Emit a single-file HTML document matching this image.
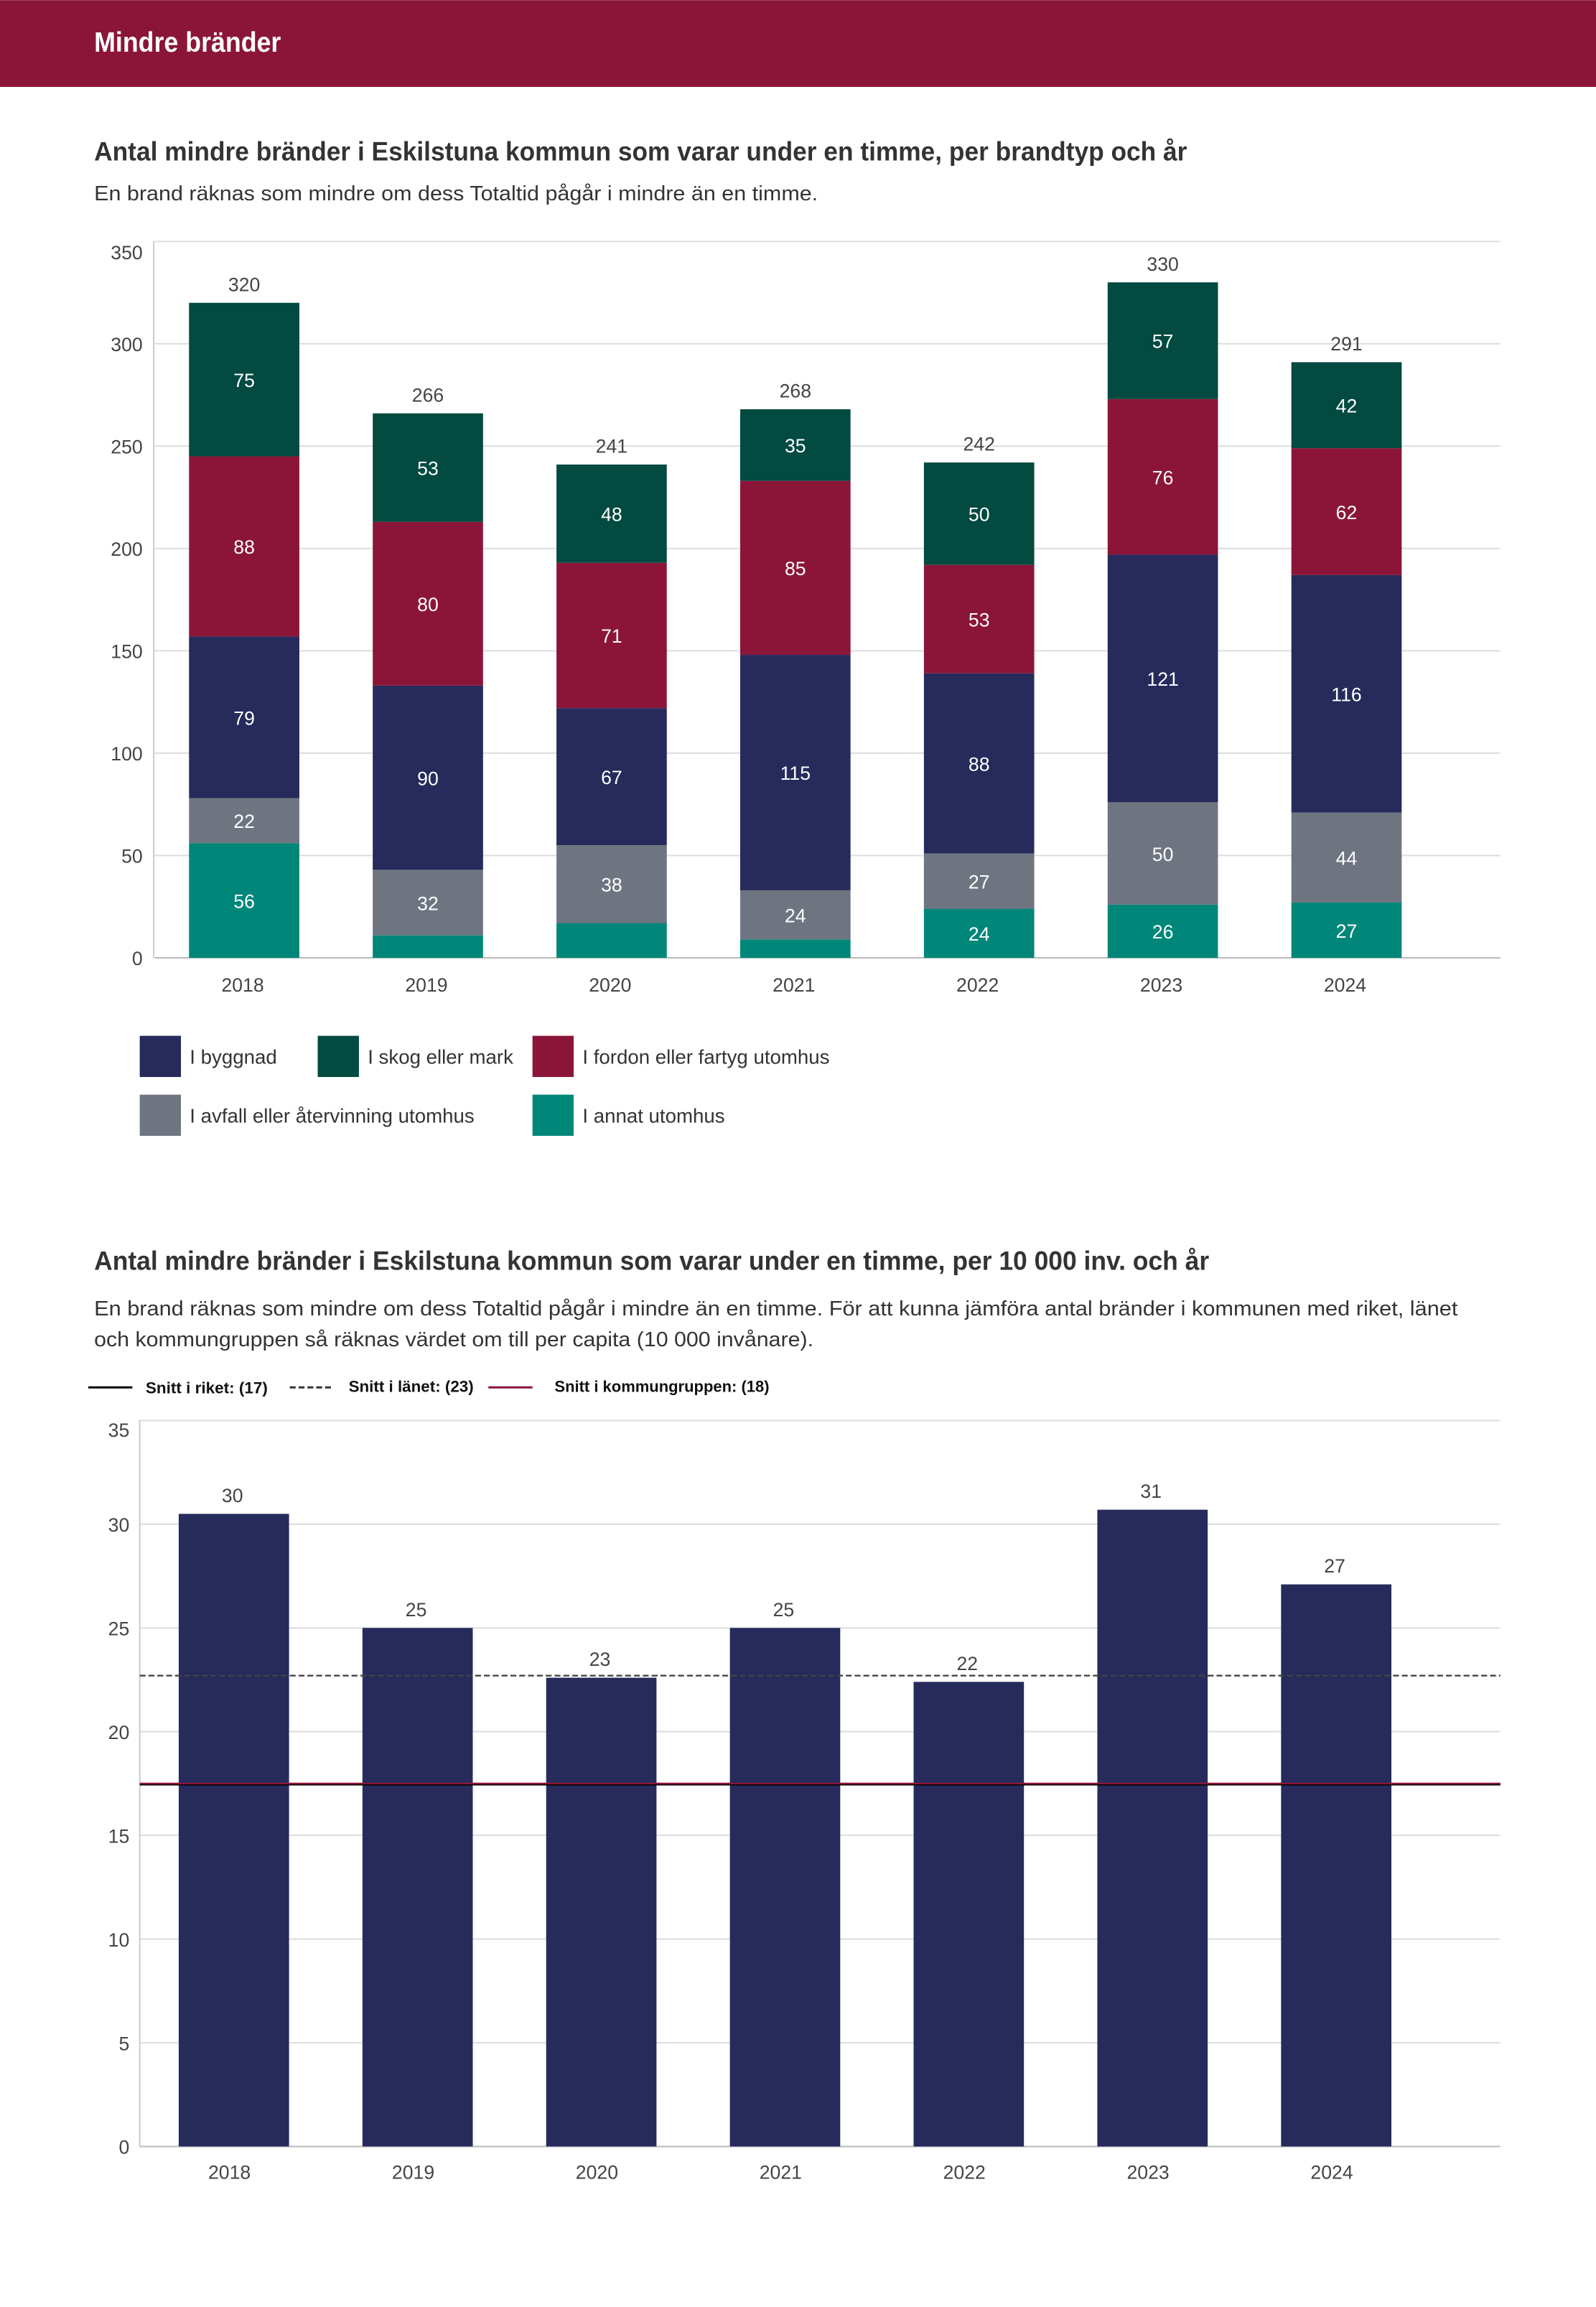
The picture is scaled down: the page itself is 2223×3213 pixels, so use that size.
<!DOCTYPE html>
<html><head><meta charset="utf-8"><style>
html,body{margin:0;padding:0;background:#fff;}
svg{display:block;font-family:"Liberation Sans",sans-serif;}
</style></head><body>
<svg id="s" width="2223" height="3213" viewBox="0 0 1085 1568" xmlns="http://www.w3.org/2000/svg">
<rect x="0" y="0" width="1085" height="59" fill="#8b1538"/>
<text x="64" y="35" fill="#fff" font-size="19" font-weight="bold" textLength="127" lengthAdjust="spacingAndGlyphs">Mindre bränder</text>
<text x="64" y="109" fill="#333" font-size="18" font-weight="bold" textLength="743" lengthAdjust="spacingAndGlyphs">Antal mindre bränder i Eskilstuna kommun som varar under en timme, per brandtyp och år</text>
<text x="64" y="136" fill="#333" font-size="14" textLength="492" lengthAdjust="spacingAndGlyphs">En brand räknas som mindre om dess Totaltid pågår i mindre än en timme.</text>
<g id="c1"></g>
<g>
<rect x="95" y="704" width="28" height="28" fill="#262b5c"/><text x="129" y="723" font-size="13.5" fill="#333">I byggnad</text>
<rect x="216" y="704" width="28" height="28" fill="#034a40"/><text x="250" y="723" font-size="13.5" fill="#333">I skog eller mark</text>
<rect x="362" y="704" width="28" height="28" fill="#8b1538"/><text x="396" y="723" font-size="13.5" fill="#333">I fordon eller fartyg utomhus</text>
<rect x="95" y="744" width="28" height="28" fill="#6f7580"/><text x="129" y="763" font-size="13.5" fill="#333">I avfall eller återvinning utomhus</text>
<rect x="362" y="744" width="28" height="28" fill="#00877a"/><text x="396" y="763" font-size="13.5" fill="#333">I annat utomhus</text>
</g>
<text x="64" y="863" fill="#333" font-size="18" font-weight="bold" textLength="758" lengthAdjust="spacingAndGlyphs">Antal mindre bränder i Eskilstuna kommun som varar under en timme, per 10 000 inv. och år</text>
<text x="64" y="894" fill="#333" font-size="14" textLength="927" lengthAdjust="spacingAndGlyphs">En brand räknas som mindre om dess Totaltid pågår i mindre än en timme. För att kunna jämföra antal bränder i kommunen med riket, länet</text>
<text x="64" y="915" fill="#333" font-size="14" textLength="489" lengthAdjust="spacingAndGlyphs">och kommungruppen så räknas värdet om till per capita (10 000 invånare).</text>
<g>
<line x1="60" y1="943" x2="90" y2="943" stroke="#000" stroke-width="1.5"/>
<text x="99" y="947" font-size="11" font-weight="bold" fill="#111" textLength="83" lengthAdjust="spacingAndGlyphs">Snitt i riket: (17)</text>
<line x1="197" y1="943" x2="227" y2="943" stroke="#333" stroke-width="1.5" stroke-dasharray="4,2"/>
<text x="237" y="946" font-size="11" font-weight="bold" fill="#111" textLength="85" lengthAdjust="spacingAndGlyphs">Snitt i länet: (23)</text>
<line x1="332" y1="943" x2="362" y2="943" stroke="#8b1538" stroke-width="1.5"/>
<text x="377" y="946" font-size="11" font-weight="bold" fill="#111" textLength="146" lengthAdjust="spacingAndGlyphs">Snitt i kommungruppen: (18)</text>
</g>
<g id="c2"></g>
</svg>
<script>
const years = ["2018","2019","2020","2021","2022","2023","2024"];
const annat = [56,11,17,9,24,26,27];
const avfall = [22,32,38,24,27,50,44];
const byggnad = [79,90,67,115,88,121,116];
const fordon = [88,80,71,85,53,76,62];
const skog = [75,53,48,35,50,57,42];
const totals = [320,266,241,268,242,330,291];
const ticks1 = [0,50,100,150,200,250,300,350];
const perCapita = [30.5,25.0,22.6,25.0,22.4,30.7,27.1];
const perCapitaLabels = ["30","25","23","25","22","31","27"];
const ticks2 = [0,5,10,15,20,25,30,35];
const riket = 17.45, lanet = 22.7, kommungrupp = 17.5;

const NS="http://www.w3.org/2000/svg";
function mk(p,tag,attrs,txt){const e=document.createElementNS(NS,tag);for(const k in attrs)e.setAttribute(k,attrs[k]);if(txt!==undefined)e.textContent=txt;p.appendChild(e);return e;}

// chart 1
const c1=document.getElementById('c1');
const y1=v=>651-v*(487/350);
const x1=i=>166+i*124.9;
ticks1.forEach(t=>{
  const g=mk(c1,'line',{x1:105,x2:1020,y1:y1(t),y2:y1(t),stroke:t===0?'#bbb':'#ddd','stroke-width':1});
  
  
  const l=mk(c1,'text',{x:97,y:y1(t)+(t===350?12:5),'text-anchor':'end','font-size':13,fill:'#444'},t);
  
  
});
const ax=mk(c1,'line',{x1:104.5,x2:104.5,y1:164,y2:651,stroke:'#ccc'});


const series=[[annat,'#00877a','annat'],[avfall,'#6f7580','avfall'],[byggnad,'#262b5c','byggnad'],[fordon,'#8b1538','fordon'],[skog,'#034a40','skog']];
years.forEach((yr,i)=>{
  let base=0;
  series.forEach(([arr,col,nm])=>{
    const v=arr[i];
    const r=mk(c1,'rect',{x:x1(i)-37.5,y:y1(base+v),width:75,height:y1(base)-y1(base+v),fill:col});
    
    
    if(v>=20){
      const t=mk(c1,'text',{x:x1(i),y:(y1(base)+y1(base+v))/2+5,'text-anchor':'middle','font-size':13,fill:'#fff'},v);
      
      
    }
    base+=v;
  });
  const tl=mk(c1,'text',{x:x1(i),y:y1(totals[i])-8,'text-anchor':'middle','font-size':13,fill:'#444'},totals[i]);
  
  
  const xl=mk(c1,'text',{x:x1(i)-1,y:674,'text-anchor':'middle','font-size':13,fill:'#444'},yr);
  
  
});

// chart 2
const c2=document.getElementById('c2');
const y2=v=>1459-v*(493.5/35);
const x2=i=>159+i*124.9;
ticks2.forEach(t=>{
  const g=mk(c2,'line',{x1:95,x2:1020,y1:y2(t),y2:y2(t),stroke:t===0?'#bbb':'#ddd','stroke-width':1});
  
  
  const l=mk(c2,'text',{x:88,y:y2(t)+(t===35?11:5),'text-anchor':'end','font-size':13,fill:'#444'},t);
  
  
});
const ax2=mk(c2,'line',{x1:95,x2:95,y1:965,y2:1459,stroke:'#ccc'});


years.forEach((yr,i)=>{
  const v=perCapita[i];
  const r=mk(c2,'rect',{x:x2(i)-37.5,y:y2(v),width:75,height:y2(0)-y2(v),fill:'#262b5c'});
  
  
  const t=mk(c2,'text',{x:x2(i)-1,y:y2(v)-8,'text-anchor':'middle','font-size':13,fill:'#444'},perCapitaLabels[i]);
  
  
  const xl=mk(c2,'text',{x:x2(i)-3,y:1481,'text-anchor':'middle','font-size':13,fill:'#444'},yr);
  
  
});
const lr=mk(c2,'line',{x1:95,x2:1020,y1:y2(riket),y2:y2(riket),stroke:'#000','stroke-width':1.2});


const ll=mk(c2,'line',{x1:95,x2:1020,y1:y2(lanet),y2:y2(lanet),stroke:'#444','stroke-width':1.2,'stroke-dasharray':'4,2'});


const lk=mk(c2,'line',{x1:95,x2:1020,y1:y2(kommungrupp),y2:y2(kommungrupp),stroke:'#8b1538','stroke-width':1.2});


</script>
</body></html>
